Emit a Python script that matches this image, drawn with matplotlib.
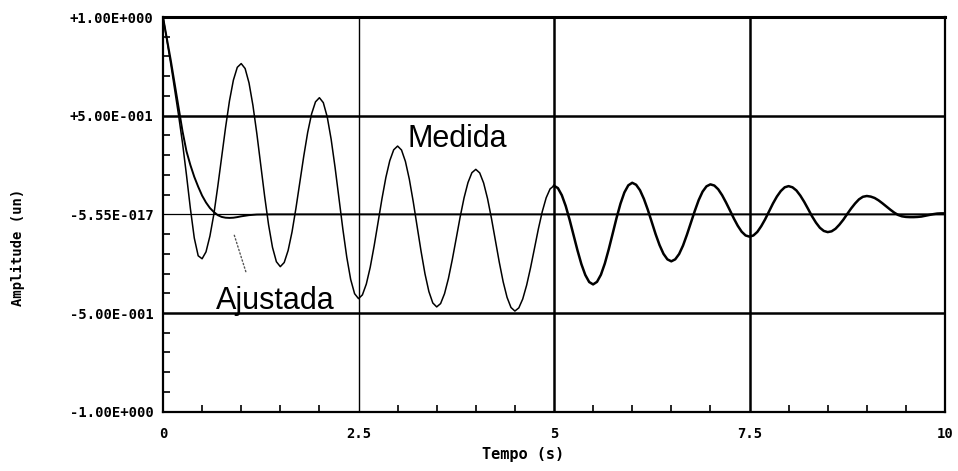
import numpy as np
import matplotlib
matplotlib.use("Agg")
import matplotlib.pyplot as plt

# ---------------- data ----------------
medida_y = [
    1.0,
    0.88, 0.76, 0.63, 0.50, 0.36, 0.20, 0.03, -0.12, -0.21, -0.225,
    -0.19, -0.11, 0.0, 0.14, 0.29, 0.44, 0.575, 0.68, 0.745, 0.764,
    0.739, 0.666, 0.552, 0.409, 0.250, 0.091, -0.053, -0.167, -0.240, -0.265,
    -0.244, -0.183, -0.089, 0.031, 0.163, 0.295, 0.415, 0.509, 0.570, 0.591,
    0.566, 0.494, 0.381, 0.239, 0.082, -0.075, -0.217, -0.330, -0.402, -0.427,
    -0.408, -0.353, -0.268, -0.160, -0.041, 0.079, 0.187, 0.272, 0.327, 0.346,
    0.326, 0.268, 0.178, 0.064, -0.062, -0.187, -0.301, -0.391, -0.449, -0.469,
    -0.452, -0.402, -0.325, -0.228, -0.121, -0.013, 0.084, 0.161, 0.211, 0.228,
    0.210, 0.159, 0.080, -0.020, -0.131, -0.242, -0.342, -0.421, -0.472, -0.490,
    -0.474, -0.429, -0.359, -0.271, -0.173, -0.074, 0.014, 0.084, 0.129, 0.145,
    0.133, 0.097, 0.042, -0.028, -0.105, -0.182, -0.252, -0.307, -0.343, -0.355,
    -0.342, -0.306, -0.249, -0.177, -0.098, -0.018, 0.054, 0.111, 0.147, 0.160,
    0.150, 0.122, 0.078, 0.023, -0.039, -0.101, -0.156, -0.200, -0.228, -0.238,
    -0.228, -0.201, -0.158, -0.103, -0.043, 0.017, 0.072, 0.115, 0.142, 0.152,
    0.146, 0.127, 0.097, 0.060, 0.020, -0.021, -0.058, -0.088, -0.107, -0.113,
    -0.107, -0.089, -0.060, -0.025, 0.015, 0.055, 0.090, 0.118, 0.137, 0.143,
    0.137, 0.121, 0.095, 0.063, 0.027, -0.010, -0.042, -0.068, -0.084, -0.090,
    -0.086, -0.073, -0.052, -0.027, 0.002, 0.030, 0.055, 0.076, 0.089, 0.093,
    0.090, 0.083, 0.071, 0.056, 0.040, 0.024, 0.009, -0.003, -0.010, -0.013,
    -0.014, -0.014, -0.013, -0.011, -0.007, -0.003, 0.001, 0.004, 0.005, 0.005,
]
medida_t = np.linspace(0, 10, len(medida_y))

ajust_t = [0, 0.05, 0.1, 0.15, 0.2, 0.25, 0.3, 0.35, 0.4, 0.45, 0.5, 0.55, 0.6,
           0.65, 0.7, 0.75, 0.8, 0.85, 0.9, 0.95, 1.0, 1.1, 1.2, 1.4, 10.0]
ajust_y = [1.0, 0.89, 0.78, 0.66, 0.54, 0.42, 0.32, 0.25, 0.19, 0.14, 0.095,
           0.06, 0.032, 0.012, -0.004, -0.013, -0.017, -0.018, -0.017, -0.014,
           -0.010, -0.004, -0.001, 0.0, 0.0]

x_ticks = [0, 2.5, 5, 7.5, 10]
x_ticklabels = ["0", "2.5", "5", "7.5", "10"]
y_ticks = [-1.0, -0.5, 0.0, 0.5, 1.0]
y_ticklabels = ["-1.00E+000", "-5.00E-001", "-5.55E-017", "+5.00E-001", "+1.00E+000"]

# ---------------- figure ----------------
fig = plt.figure(figsize=(9.58, 4.71), dpi=100)
ax = fig.add_axes([163 / 958, 1 - 411.7 / 471, (945 - 163) / 958, (411.7 - 17) / 471])

mono = dict(family="DejaVu Sans Mono", weight="bold")

# grid lines
for y in y_ticks[1:-1]:
    ax.axhline(y, color="black", lw=0.9 if y == 0 else 1.8, zorder=1)
for x in x_ticks[1:-1]:
    ax.axvline(x, color="black", lw=1.0 if x == 2.5 else 1.8, zorder=1)

# curves
t = np.asarray(medida_t)
m = np.asarray(medida_y)
first = t <= 5.0
ax.plot(t[first], m[first], color="black", lw=1.1, zorder=3)
ax.plot(t[t >= 5.0], m[t >= 5.0], color="black", lw=1.8, zorder=3)
ax.plot(ajust_t, ajust_y, color="black", lw=1.4, zorder=3)

ax.set_xlim(0, 10)
ax.set_ylim(-1, 1)

ax.set_xticks(x_ticks)
ax.set_xticklabels(x_ticklabels, fontdict=dict(fontsize=10, **mono))
ax.set_yticks(y_ticks)
ax.set_yticklabels(y_ticklabels, fontdict=dict(fontsize=10, **mono))
ax.set_xticks(np.arange(0, 10.01, 0.5), minor=True)
ax.set_yticks(np.arange(-1, 1.001, 0.1), minor=True)
ax.tick_params(which="major", length=0, pad=7)
ax.tick_params(axis="x", which="major", pad=11)
ax.tick_params(which="minor", direction="in", length=5, width=1.2,
               right=False, top=False)

for s in ax.spines.values():
    s.set_linewidth(1.6)
ax.spines["top"].set_linewidth(2.2)

# annotations
ax.text(3.13, 0.341, "Medida", fontsize=22, family="Liberation Sans",
        ha="left", va="baseline", zorder=4)
ax.text(0.68, -0.481, "Ajustada", fontsize=22, family="Liberation Sans",
        ha="left", va="baseline", zorder=4)
ax.annotate("", xy=(0.895, -0.085), xytext=(1.07, -0.304),
            arrowprops=dict(arrowstyle="-", linestyle=":", color="#555555", lw=1.0))

fig.text(18 / 958, 1 - 247 / 471, "Amplitude (un)", rotation=90,
         ha="center", va="center", fontsize=10, **mono)
fig.text(523 / 958, 1 - 455 / 471, "Tempo (s)", ha="center", va="center",
         fontsize=11, **mono)

fig.savefig("out.png", dpi=100, facecolor="white")
